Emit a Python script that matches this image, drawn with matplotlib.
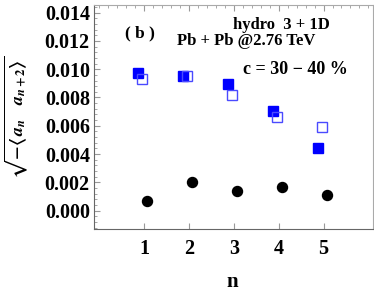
import matplotlib.pyplot as plt
from matplotlib.ticker import MultipleLocator

# data
n = [1, 2, 3, 4, 5]
hydro_filled = [0.00976, 0.00955, 0.00894, 0.00707, 0.00440]
hydro_open = [0.00933, 0.00950, 0.00820, 0.00660, 0.00594]
data_black = [0.00069, 0.00203, 0.00141, 0.00168, 0.00111]

plt.rcParams['font.family'] = ['Liberation Serif', 'DejaVu Serif']
plt.rcParams['font.weight'] = 'bold'
plt.rcParams['mathtext.fontset'] = 'stix'

fig = plt.figure(figsize=(3.74, 2.91), dpi=100)
ax = fig.add_axes([0.2513, 0.2131, 0.7457, 0.7697])

ax.plot([x - 0.13 for x in n], hydro_filled, 's', color='blue', markersize=6.5)
ax.plot([x - 0.04 for x in n], hydro_open, 's', mfc='none', mec='#4a4aff',
        markersize=6.5, mew=1.0)
ax.plot([x + 0.07 for x in n], data_black, 'o', color='black', markersize=7.2)

ax.set_xlim(-0.12, 6.1)
ax.set_ylim(-0.0013, 0.01454)
ax.set_xticks(n)
ax.set_yticks([0.000, 0.002, 0.004, 0.006, 0.008, 0.010, 0.012, 0.014])
ax.set_yticklabels(['0.000', '0.002', '0.004', '0.006', '0.008', '0.010',
                    '0.012', '0.014'])
ax.yaxis.set_minor_locator(MultipleLocator(0.0004))
ax.xaxis.set_minor_locator(MultipleLocator(0.2))
ax.tick_params(axis='both', which='both', direction='in', color='#999999')
ax.tick_params(axis='y', which='major', length=4, labelsize=14.5, pad=3)
ax.tick_params(axis='y', which='minor', length=2)
ax.tick_params(axis='x', which='major', length=4, labelsize=14.5, pad=7,
               top=True)
ax.tick_params(axis='x', which='minor', length=2, top=True, bottom=False)
for lab in ax.get_xticklabels() + ax.get_yticklabels():
    lab.set_fontweight('bold')
for side in ['top', 'right']:
    ax.spines[side].set_color('#aaaaaa')
for side in ['left', 'bottom']:
    ax.spines[side].set_color('#666666')

ax.set_xlabel('n', fontsize=15, fontweight='bold')
ax.xaxis.set_label_coords(0.495, -0.19)
ax.set_ylabel(r'$\sqrt{-\langle\, a_n\quad a_{n+2}\rangle}$', fontsize=13)
ax.yaxis.set_label_coords(-0.23, 0.5)

ax.text(0.9, 0.0125, '( b )', fontsize=12.5, fontweight='bold',
        ha='center', va='center')
ax.text(4.07, 0.0131, 'hydro  3 + 1D', fontsize=12, fontweight='bold',
        ha='center', va='center')
ax.text(3.28, 0.0120, 'Pb + Pb @2.76 TeV', fontsize=12, fontweight='bold',
        ha='center', va='center')
ax.text(4.38, 0.0100, 'c = 30 \u2212 40 %', fontsize=13, fontweight='bold',
        ha='center', va='center')

plt.savefig('out.png', dpi=100)
